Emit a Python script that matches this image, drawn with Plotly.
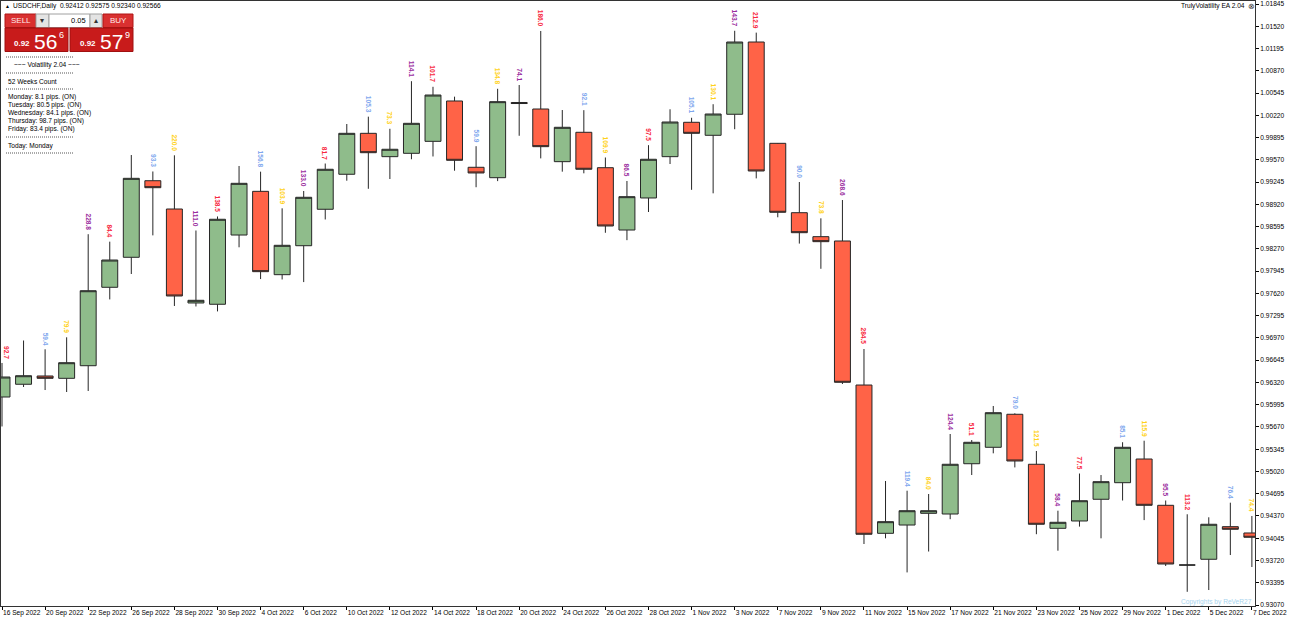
import plotly.graph_objects as go
import pandas as pd

# ---------------- data ----------------
dates = [
    "16 Sep 2022", "19 Sep 2022", "20 Sep 2022", "21 Sep 2022", "22 Sep 2022", "23 Sep 2022",
    "26 Sep 2022", "27 Sep 2022", "28 Sep 2022", "29 Sep 2022", "30 Sep 2022",
    "3 Oct 2022", "4 Oct 2022", "5 Oct 2022", "6 Oct 2022", "7 Oct 2022",
    "10 Oct 2022", "11 Oct 2022", "12 Oct 2022", "13 Oct 2022", "14 Oct 2022",
    "17 Oct 2022", "18 Oct 2022", "19 Oct 2022", "20 Oct 2022", "21 Oct 2022",
    "24 Oct 2022", "25 Oct 2022", "26 Oct 2022", "27 Oct 2022", "28 Oct 2022",
    "31 Oct 2022", "1 Nov 2022", "2 Nov 2022", "3 Nov 2022", "4 Nov 2022",
    "7 Nov 2022", "8 Nov 2022", "9 Nov 2022", "10 Nov 2022", "11 Nov 2022",
    "14 Nov 2022", "15 Nov 2022", "16 Nov 2022", "17 Nov 2022", "18 Nov 2022",
    "21 Nov 2022", "22 Nov 2022", "23 Nov 2022", "24 Nov 2022", "25 Nov 2022",
    "28 Nov 2022", "29 Nov 2022", "30 Nov 2022", "1 Dec 2022", "2 Dec 2022",
    "5 Dec 2022", "6 Dec 2022", "7 Dec 2022",
]

opens = [0.96107, 0.96293, 0.96414, 0.96380, 0.96564, 0.97709, 0.98147, 0.99265, 0.98852, 0.97480,
         0.97461, 0.98472, 0.99110, 0.97893, 0.98316, 0.98848, 0.99359, 0.99957, 0.99616, 0.99665,
         0.99840, 1.00429, 0.99461, 0.99309, 1.00407, 1.00312, 0.99543, 0.99972, 0.99455, 0.98545,
         0.99013, 0.99616, 1.00118, 0.99928, 1.00235, 1.01290, 0.99811, 0.98798, 0.98448, 0.98385,
         0.96282, 0.94117, 0.94238, 0.94409, 0.94399, 0.95133, 0.95373, 0.95855, 0.95125, 0.94190,
         0.94297, 0.94614, 0.94856, 0.95202, 0.94526, 0.93654, 0.93738, 0.94214, 0.94122]
highs = [0.96604, 0.96932, 0.96804, 0.96979, 0.98484, 0.98375, 0.99640, 0.99400, 0.99636, 0.98538,
         0.98743, 0.99480, 0.99397, 0.98862, 0.99115, 0.99516, 1.00093, 1.00200, 1.00023, 1.00718,
         1.00636, 1.00492, 0.99769, 1.00607, 1.00662, 1.01451, 1.00297, 1.00295, 0.99604, 0.99261,
         0.99784, 1.00308, 1.00184, 1.00382, 1.01454, 1.01427, 0.99815, 0.99246, 0.98716, 0.98983,
         0.96808, 0.94881, 0.94739, 0.94691, 0.95567, 0.95479, 0.95976, 0.95869, 0.95319, 0.94447,
         0.94990, 0.94968, 0.95447, 0.95469, 0.94596, 0.94395, 0.94351, 0.94564, 0.94370]
lows = [0.95677, 0.96253, 0.96209, 0.96180, 0.96195, 0.97532, 0.97903, 0.98467, 0.97436, 0.97429,
        0.97357, 0.98293, 0.97829, 0.97823, 0.97785, 0.98699, 0.99265, 0.99147, 0.99290, 0.99578,
        0.99619, 0.99411, 0.99170, 0.99259, 0.99921, 0.99591, 0.99397, 0.99373, 0.98505, 0.98397,
        0.98808, 0.99509, 0.99132, 0.99081, 1.00017, 0.99299, 0.98731, 0.98347, 0.97979, 0.96297,
        0.93961, 0.94044, 0.93546, 0.93851, 0.94323, 0.94968, 0.95285, 0.95079, 0.94104, 0.93863,
        0.94215, 0.94044, 0.94596, 0.94310, 0.93640, 0.93263, 0.93289, 0.93800, 0.93625]
closes = [0.96399, 0.96418, 0.96380, 0.96608, 0.97659, 0.98107, 0.99300, 0.99163, 0.97582, 0.97519,
          0.98702, 0.99227, 0.97937, 0.98322, 0.99023, 0.99432, 0.99957, 0.99674, 0.99724, 1.00103,
          1.00516, 0.99563, 0.99378, 1.00419, 1.00392, 0.99762, 1.00045, 0.99432, 0.98604, 0.99032,
          0.99578, 1.00122, 0.99957, 1.00239, 1.01290, 0.99407, 0.98804, 0.98506, 0.98375, 0.96322,
          0.94103, 0.94287, 0.94447, 0.94447, 0.95125, 0.95446, 0.95878, 0.95173, 0.94249, 0.94278,
          0.94593, 0.94871, 0.95373, 0.94526, 0.93669, 0.93654, 0.94249, 0.94176, 0.94059]

# daily range labels in pips (Mondays carry none)
range_pips = [92.7, None, 59.4, 79.9, 228.8, 84.4, None, 93.3, 220.0, 111.0, 138.5,
              None, 156.8, 103.9, 133.0, 81.7, None, 105.3, 73.3, 114.1, 101.7,
              None, 59.9, 134.8, 74.1, 186.0, None, 92.1, 109.9, 86.5, 97.5,
              None, 105.1, 130.1, 143.7, 212.9, None, 90.0, 73.8, 268.6, 284.5,
              None, 119.4, 84.0, 124.4, 51.1, None, 79.0, 121.5, 58.4, 77.5,
              None, 85.1, 115.9, 95.5, 113.2, None, 76.4, 74.4]

y_ticks = [0.93070, 0.93395, 0.93720, 0.94045, 0.94370, 0.94695, 0.95020, 0.95345, 0.95670,
           0.95995, 0.96320, 0.96645, 0.96970, 0.97295, 0.97620, 0.97945, 0.98270, 0.98595,
           0.98920, 0.99245, 0.99570, 0.99895, 1.00220, 1.00545, 1.00870, 1.01195, 1.01520,
           1.01845]

info_lines = ["Monday: 8.1 pips. (ON)", "Tuesday: 80.5 pips. (ON)", "Wednesday: 84.1 pips. (ON)",
              "Thursday: 98.7 pips. (ON)", "Friday: 83.4 pips. (ON)"]

weekday_colors = {1: "#7FA7EE", 2: "#FFD21A", 3: "#9A2C9E", 4: "#F8283E"}

# ---------------- figure ----------------
idx = list(range(len(dates)))
weekdays = pd.to_datetime(dates, format="%d %b %Y").dayofweek

FONT = "Liberation Sans, Arial, sans-serif"
FS = 6.6

fig = go.Figure()
fig.add_trace(go.Candlestick(
    x=idx, open=opens, high=highs, low=lows, close=closes,
    increasing=dict(fillcolor="#8FBC8B", line=dict(color="#262626", width=1)),
    decreasing=dict(fillcolor="#FF6347", line=dict(color="#262626", width=1)),
    whiskerwidth=0, hoverinfo="skip", showlegend=False,
))

annotations = []
for i, v in enumerate(range_pips):
    if v is None:
        continue
    first = (i == 0)
    annotations.append(dict(
        x=idx[i], y=highs[i], xref="x", yref="y", text=f"{v:.1f}", showarrow=False,
        textangle=90, xanchor="left" if first else "center", yanchor="bottom", yshift=2,
        xshift=-1 if first else 0,
        font=dict(family=FONT, size=FS, color=weekday_colors[weekdays[i]], weight="bold"),
    ))

# helpers for pixel-placed panel items (plot area: x 1..1255, y 1..606)
def PX(x):
    return (x - 1) / 1254.0

def PY(y):
    return (606 - y) / 605.0

def txt(x, y, s, size=FS, color="#000000", anchor="left", weight="normal"):
    annotations.append(dict(x=PX(x), y=PY(y), xref="paper", yref="paper", text=s,
                            showarrow=False, xanchor=anchor, yanchor="middle",
                            font=dict(family=FONT, size=size, color=color, weight=weight)))

shapes = []

def rect(x0, y0, x1, y1, fill, line="rgba(0,0,0,0)", w=1):
    shapes.append(dict(type="rect", xref="paper", yref="paper", x0=PX(x0), x1=PX(x1),
                       y0=PY(y0), y1=PY(y1), fillcolor=fill, line=dict(color=line, width=w),
                       layer="above"))

def hline(x0, x1, y, color="#555555", dash="1px,1px"):
    shapes.append(dict(type="line", xref="paper", yref="paper", x0=PX(x0), x1=PX(x1),
                       y0=PY(y), y1=PY(y), line=dict(color=color, width=1, dash=dash),
                       layer="above"))

# header
txt(3, 6.5, "▲", size=5)
txt(10.5, 6.5, "USDCHF,Daily  0.92412 0.92575 0.92340 0.92566")

# one-click trading panel
rect(5, 14, 36, 27.5, "#D93030", "#B01515")
txt(20.5, 20.8, "SELL", size=8, color="#FFEAEA", anchor="center")
rect(36, 14, 49, 27.5, "#E4E4E4", "#A0A0A0")
txt(42.5, 20.8, "▾", size=8, color="#333333", anchor="center")
rect(49, 14, 90, 27.5, "#FFFFFF", "#A0A0A0")
txt(88, 20.8, "0.05", size=7.5, color="#000000", anchor="right")
rect(90, 14, 102, 27.5, "#E4E4E4", "#A0A0A0")
txt(96, 20.8, "▴", size=8, color="#333333", anchor="center")
rect(103, 14, 133, 27.5, "#D93030", "#B01515")
txt(118, 20.8, "BUY", size=8, color="#FFEAEA", anchor="center")
rect(5, 28, 68, 51.5, "#C81B1B", "#A01010")
rect(70, 28, 133, 51.5, "#C81B1B", "#A01010")
txt(12, 44, "0.92", size=8, color="#FFFFFF", weight="bold")
txt(32, 41, "56", size=21, color="#FFFFFF")
txt(57, 35, "6", size=9, color="#FFFFFF")
txt(78, 44, "0.92", size=8, color="#FFFFFF", weight="bold")
txt(98, 41, "57", size=21, color="#FFFFFF")
txt(123, 35, "9", size=9, color="#FFFFFF")

# volatility info block
for yy in (57, 73, 89, 137, 153):
    hline(6, 74, yy)
txt(12, 64.5, "~~~ Volatility 2.04 ~~~")
txt(6, 81, "52 Weeks Count")
for k, line in enumerate(info_lines):
    txt(6, 97 + 7.9 * k, line)
txt(6, 145.5, "Today: Monday")

# top-right EA label and bottom-right copyright
txt(1246.5, 6.5, "TrulyVolatility EA 2.04", anchor="right")
txt(1251.5, 6.5, "⊗", size=8, color="#333333", anchor="center")
txt(1254, 601.5, "Copyrights by ReVeR27", color="#A9D4EE", anchor="right")

tick_idx = idx[::2]
fig.update_layout(
    width=1290, height=621,
    margin=dict(l=1, r=35, t=1, b=15),
    paper_bgcolor="#FFFFFF", plot_bgcolor="#FFFFFF",
    showlegend=False, hovermode=False,
    boxgap=0.26, boxgroupgap=0,
    annotations=annotations, shapes=shapes,
    xaxis=dict(
        range=[-0.0464, 58.145], tickmode="array", tickvals=tick_idx,
        ticktext=[dates[i] for i in tick_idx], ticks="outside", ticklen=3,
        tickcolor="#000000", tickangle=0, ticklabelposition="outside right",
        tickfont=dict(family=FONT, size=FS, color="#000000"),
        showline=True, mirror=True, linecolor="#333333", linewidth=1,
        showgrid=False, zeroline=False, rangeslider=dict(visible=False), fixedrange=True,
    ),
    yaxis=dict(
        side="right", range=[0.930558, 1.018888], tickmode="array", tickvals=y_ticks,
        ticktext=[f"{v:.5f}" for v in y_ticks], ticks="outside", ticklen=3,
        tickcolor="#000000", tickfont=dict(family=FONT, size=FS, color="#000000"),
        showline=True, mirror=True, linecolor="#333333", linewidth=1,
        showgrid=False, zeroline=False, fixedrange=True,
    ),
)

fig.write_html("out.html", config={"displayModeBar": False})
